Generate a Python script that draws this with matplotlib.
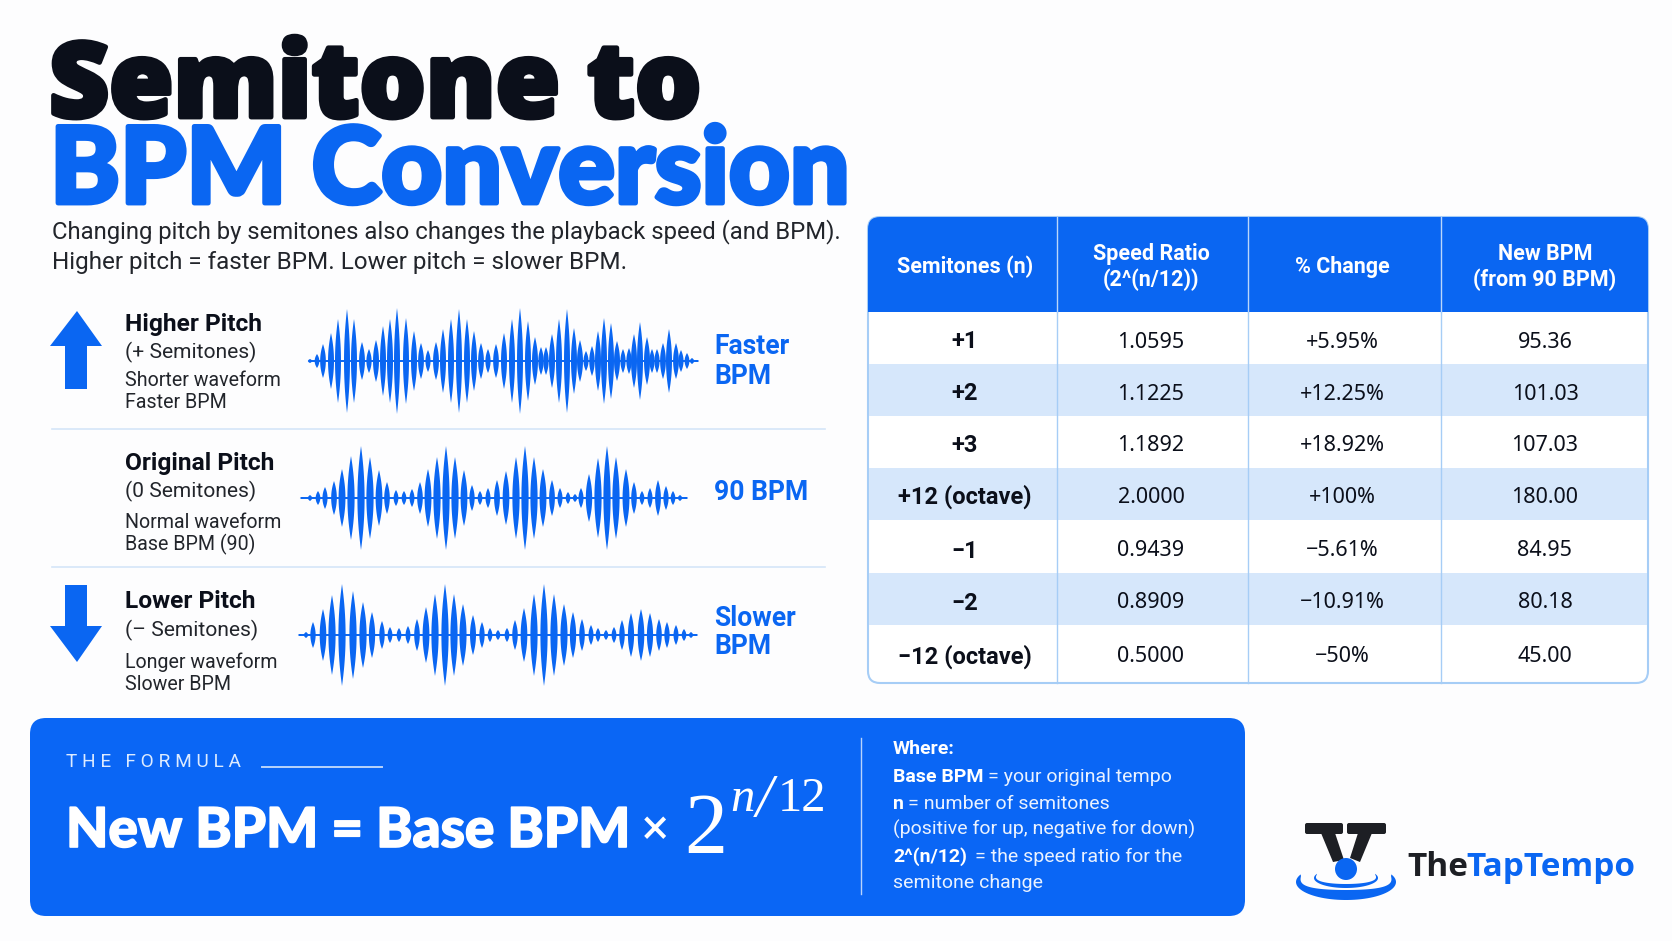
import numpy as np
import matplotlib
matplotlib.use('Agg')
import matplotlib.pyplot as plt
from matplotlib.patches import FancyBboxPatch, Rectangle, Circle, Polygon
import matplotlib.patheffects as pe

BLUE = '#0A66F2'
DARK = '#0B0F1A'
INK = '#22252B'
W, H = 1672, 941

# table content
columns = ['Semitones (n)', 'Speed Ratio\n(2^(n/12))', '% Change', 'New BPM\n(from 90 BPM)']
semitones = ['+1', '+2', '+3', '+12 (octave)', '−1', '−2', '−12 (octave)']
ratios = ['1.0595', '1.1225', '1.1892', '2.0000', '0.9439', '0.8909', '0.5000']
changes = ['+5.95%', '+12.25%', '+18.92%', '+100%', '−5.61%', '−10.91%', '−50%']
new_bpm = ['95.36', '101.03', '107.03', '180.00', '84.95', '80.18', '45.00']

# waveform peaks (x in px, half height in px)
wave1_x = [310, 317, 323, 331, 338, 347, 354, 362, 369, 376, 383, 390, 397, 406, 414, 421, 428, 436, 443, 451,
           459, 467, 474, 481, 488, 496, 504, 512, 520, 528, 535, 541, 546, 552, 559, 567, 574, 580, 586, 592,
           598, 604, 611, 617, 623, 629, 634, 640, 647, 652, 657, 663, 669, 676, 681, 687, 692, 697]
wave1_a = [2, 7, 17, 28, 42, 52, 42, 19, 12, 21, 35, 42, 53, 43, 30, 18, 11, 19, 32, 42,
           52, 42, 30, 18, 12, 17, 28, 42, 53, 40, 24, 14, 14, 27, 42, 52, 33, 21, 10, 15,
           30, 43, 38, 20, 12, 13, 27, 39, 24, 12, 12, 18, 32, 18, 11, 8, 3, 1]
wave2_x = [302, 310, 318, 325, 334, 342, 351, 361, 370, 379, 387, 396, 404, 412, 420, 428, 437, 446, 455, 464,
           472, 480, 488, 497, 506, 516, 525, 534, 543, 552, 560, 568, 575, 581, 589, 598, 607, 616, 626, 634,
           642, 650, 658, 666, 673, 680, 686]
wave2_a = [1, 3, 7, 11, 17, 29, 42, 52, 41, 28, 16, 8, 7, 9, 16, 29, 41, 52, 41, 28,
           13, 7, 10, 18, 27, 41, 52, 41, 29, 18, 10, 6, 4, 10, 24, 40, 52, 41, 29, 16,
           7, 10, 18, 12, 7, 3, 1]
wave3_x = [300, 306, 313, 323, 332, 342, 353, 363, 372, 382, 390, 399, 408, 417, 426, 435, 445, 454, 463, 473,
           482, 490, 498, 507, 515, 524, 534, 544, 554, 564, 573, 582, 591, 598, 606, 614, 622, 631, 641, 650,
           659, 667, 676, 684, 691, 696]
wave3_a = [1, 3, 13, 26, 40, 51, 44, 33, 23, 14, 8, 7, 9, 16, 28, 41, 51, 41, 31, 20,
           13, 7, 5, 7, 15, 27, 41, 51, 41, 31, 23, 16, 10, 7, 5, 8, 15, 22, 26, 22,
           16, 13, 10, 6, 3, 1]

plt.rcParams['font.family'] = ['Roboto', 'DejaVu Sans']
fig = plt.figure(figsize=(W / 100, H / 100), dpi=100, facecolor='#FDFDFE')
ax = fig.add_axes([0, 0, 1, 1])
ax.set_xlim(0, W)
ax.set_ylim(H, 0)
ax.axis('off')


def put(x, y, s, px, color=INK, weight='normal', ha='left', **kw):
    return ax.text(x, y + 2, s, fontsize=px * 0.72, color=color, fontweight=weight, ha=ha, va='center', **kw)


def wave(xs, amps, y0, w=3.6):
    ax.plot([xs[0], xs[-1]], [y0, y0], color=BLUE, lw=1.4)
    t = np.linspace(-1, 1, 21)
    for x, a in zip(xs, amps):
        half = min(w, 2.0 + a * 0.05) * (1 - t ** 2)
        ax.fill(np.r_[x - half, (x + half)[::-1]], np.r_[y0 + a * t, y0 + a * t[::-1]], color=BLUE, lw=0)


# title
ax.text(49, 117, 'Semitone to', fontsize=75, family='Open Sans', fontweight=800, color=DARK,
        va='baseline', path_effects=[pe.withStroke(linewidth=3.5, foreground=DARK)])
ax.text(50, 203, 'BPM Conversion', fontsize=76, family='Lato', fontweight='black', color=BLUE,
        va='baseline', path_effects=[pe.withStroke(linewidth=3.5, foreground=BLUE)])
put(52, 230, 'Changing pitch by semitones also changes the playback speed (and BPM).', 23.9)
put(52, 261, 'Higher pitch = faster BPM. Lower pitch = slower BPM.', 24.2)

# left panel
ax.add_patch(Polygon([(77, 311), (102, 346), (87, 346), (87, 389), (65, 389), (65, 346), (50, 346)], color=BLUE, lw=0))
ax.add_patch(Polygon([(77, 662), (102, 626), (87, 626), (87, 585), (65, 585), (65, 626), (50, 626)], color=BLUE, lw=0))
for y in [429, 567]:
    ax.plot([52, 825], [y, y], color='#D5E6F8', lw=1.2)

rows_left = [
    (323, 'Higher Pitch', 351, '(+ Semitones)', 380, 'Shorter waveform', 402, 'Faster BPM'),
    (462, 'Original Pitch', 490, '(0 Semitones)', 521, 'Normal waveform', 543, 'Base BPM (90)'),
    (601, 'Lower Pitch', 629, '(– Semitones)', 661, 'Longer waveform', 683, 'Slower BPM'),
]
for y1, s1, y2, s2, y3, s3, y4, s4 in rows_left:
    put(125, y1 - 1, s1, 24.5, color=DARK, weight='bold')
    put(125, y2 - 1, s2, 21)
    put(125, y3 - 1, s3, 19.7)
    put(125, y4 - 1, s4, 19.7)

wave(wave1_x, wave1_a, 361, w=3.0)
wave(wave2_x, wave2_a, 498)
wave(wave3_x, wave3_a, 635)

put(714, 345, 'Faster', 26.5, color=BLUE, weight='bold')
put(714, 374, 'BPM', 26.5, color=BLUE, weight='bold')
put(714, 490, '90 BPM', 26.5, color=BLUE, weight='bold')
put(714, 617, 'Slower', 26.5, color=BLUE, weight='bold')
put(714, 645, 'BPM', 26.5, color=BLUE, weight='bold')

# table
tx0, tx1, ty0, ty1 = 868, 1648, 217, 683
col_edges = [868, 1057, 1248, 1441, 1648]
row_edges = [312, 364, 416, 468, 520, 573, 625, 683]
col_centers = [965, 1151, 1342, 1545]
row_centers = [342, 394, 445, 497, 551, 603, 657]
frame = FancyBboxPatch((tx0, ty0), tx1 - tx0, ty1 - ty0, boxstyle='round,pad=0,rounding_size=12',
                       fc='white', ec='#A6CDF6', lw=1.5, zorder=1)
ax.add_patch(frame)
head = Rectangle((tx0, ty0), tx1 - tx0, row_edges[0] - ty0, fc=BLUE, lw=0, zorder=2)
ax.add_patch(head)
head.set_clip_path(frame)
for i in range(1, 7, 2):
    ax.add_patch(Rectangle((tx0 + 1, row_edges[i]), tx1 - tx0 - 2, row_edges[i + 1] - row_edges[i],
                           fc='#D6E7FB', lw=0, zorder=2))
for x in col_edges[1:-1]:
    ax.plot([x, x], [ty0, row_edges[0]], color='#BBD6FA', lw=1, zorder=3)
    ax.plot([x, x], [row_edges[0], ty1], color='#A6CDF6', lw=1, zorder=3)
header_y = [267, 267, 267, 267]
for cx, cy, label in zip(col_centers, header_y, columns):
    ax.text(cx, cy, label, fontsize=15.5, color='white', fontweight='bold', ha='center', va='center',
            linespacing=1.15, zorder=4)
for i, cy in enumerate(row_centers):
    ax.text(col_centers[0], cy, semitones[i], fontsize=17, color=DARK, fontweight='bold', ha='center', va='center', zorder=4)
    for cx, val in zip(col_centers[1:], [ratios[i], changes[i], new_bpm[i]]):
        ax.text(cx, cy, val, fontsize=15.5, family='Noto Sans', color=DARK, ha='center', va='center', zorder=4)

# formula box
ax.add_patch(FancyBboxPatch((30, 718), 1215, 198, boxstyle='round,pad=0,rounding_size=16', fc='#0A66F5', lw=0))
ax.text(66, 762, 'T H E   F O R M U L A', fontsize=13.7, color='#DDEBFF', va='center')
ax.plot([262, 382], [767, 767], color='#B8D3FB', lw=1.4)
ax.text(66, 847, 'New BPM = Base BPM', fontsize=39.5, family='Lato', color='white', fontweight='black', va='baseline',
        path_effects=[pe.withStroke(linewidth=1.2, foreground='white')])
ax.text(655, 830, '×', fontsize=36, color='white', ha='center', va='center')
ax.text(684, 853, '2', fontsize=62, color='white', family='Liberation Serif', va='baseline')
ax.text(730, 811, 'n', fontsize=35, color='white', family='Liberation Serif', style='italic', va='baseline')
ax.text(756, 816, '/', fontsize=44, color='white', family='Liberation Serif', style='italic', va='baseline')
ax.text(778, 811, '12', fontsize=35, color='white', family='Liberation Serif', va='baseline')
ax.plot([861, 861], [738, 894], color='#B8D3FB', lw=1)

put(893, 747, 'Where:', 19.5, color='white', weight='bold')
put(893, 775, 'Base BPM', 19.5, color='white', weight='bold')
put(988, 775, '= your original tempo', 19.5, color='#EAF2FF')
put(893, 802, 'n', 19.5, color='white', weight='bold')
put(908, 802, '= number of semitones', 19.5, color='#EAF2FF')
put(893, 827, '(positive for up, negative for down)', 19.5, color='#EAF2FF')
put(893, 855, '2^(n/12)', 19.5, color='white', weight='bold')
put(975, 855, '= the speed ratio for the', 19.5, color='#EAF2FF')
put(893, 881, 'semitone change', 19.5, color='#EAF2FF')

# logo
LOGO = '#1D1F24'
for x0, x1 in [(1305, 1343), (1347, 1386)]:
    ax.add_patch(FancyBboxPatch((x0, 823), x1 - x0, 11, boxstyle='round,pad=0,rounding_size=2', fc=LOGO, lw=0))
ax.add_patch(Polygon([(1321, 833), (1335, 833), (1344, 860), (1333, 862)], fc=LOGO, lw=0))
ax.add_patch(Polygon([(1358, 833), (1372, 833), (1360, 862), (1350, 858)], fc=LOGO, lw=0))
ax.add_patch(Circle((1346, 869), 11, fc=BLUE, lw=0))


def ripple(cx, cy, rx, ry, tx, ty, a0, a1):
    th = np.radians(np.linspace(a0, a1, 60))
    taper = np.sin(np.linspace(0, np.pi, 60)) ** 0.6
    ox, oy = cx + rx * np.cos(th), cy + ry * np.sin(th)
    ix, iy = cx + (rx - tx * taper) * np.cos(th), cy + (ry - ty * taper) * np.sin(th)
    ax.fill(np.r_[ox, ix[::-1]], np.r_[oy, iy[::-1]], color=BLUE, lw=0)


ripple(1346, 882, 50, 18, 10, 10, -25, 205)
ripple(1346, 878, 32, 10, 4, 4, -25, 205)
ax.text(1407, 876, 'The', fontsize=24, family='Open Sans', fontweight='bold', color=LOGO, va='baseline')
ax.text(1466, 876, 'TapTempo', fontsize=24, family='Open Sans', fontweight='bold', color=BLUE, va='baseline')

fig.savefig('out.png', dpi=100, facecolor=fig.get_facecolor())
